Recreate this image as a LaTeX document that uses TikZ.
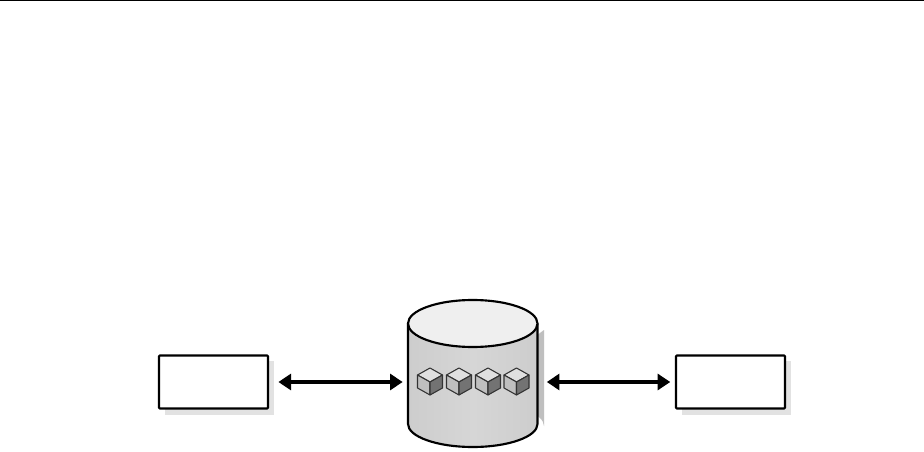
\documentclass[tikz,border=0pt]{standalone}
\usetikzlibrary{arrows.meta}
\definecolor{shadowgray}{HTML}{E2E2E2}
\definecolor{cylside}{HTML}{CDCDCD}
\definecolor{cylmid}{HTML}{D6D6D6}
\definecolor{cyltop}{HTML}{EFEFEF}
\tikzset{
  px/.style={x=0.75pt,y=-0.75pt},
  outline/.style={draw=black,line width=1.6pt,line join=round},
  boxnode/.style={outline,fill=white,minimum width=81.75pt,minimum height=39.75pt,inner sep=0pt,rounded corners=0.6pt},
  boxshadow/.style={fill=shadowgray,draw=none},
  link/.style={line width=2.3pt,{Triangle[length=9.5pt,width=12pt]}-{Triangle[length=9.5pt,width=12pt]}},
  cubeedge/.style={draw=black!80,line width=0.8pt,line join=round},
}
\newcommand{\cubeicon}[1]{%
  \begin{scope}[shift={(#1,381.5)}]
    \fill[cubeedge,fill=black!12] (0,-13.5) -- (12.5,-6.5) -- (0,0.5) -- (-12.5,-6.5) -- cycle;
    \fill[cubeedge,fill=black!25] (-12.5,-6.5) -- (0,0.5) -- (0,13.5) -- (-12.5,6.5) -- cycle;
    \fill[cubeedge,fill=black!55] (12.5,-6.5) -- (0,0.5) -- (0,13.5) -- (12.5,6.5) -- cycle;
  \end{scope}}
\begin{document}
\begin{tikzpicture}[px]
\useasboundingbox (0,0) rectangle (924,452);
\fill[white] (0,0) rectangle (924,452);
% top rule
\coordinate (ruleL) at (0,0.5);
\coordinate (ruleR) at (924,0.5);
\draw[black,line width=0.75pt] (ruleL) -- (ruleR);
% shadows
\fill[boxshadow] (165,361) rectangle (274,414.5);
\fill[boxshadow] (682,361) rectangle (791,414.5);
\fill[black!25] (544,330) -- (544,426) arc[start angle=0,end angle=-180,x radius=64.75,y radius=23] -- cycle;
% cylinder
\path[left color=cylside,right color=cylside,middle color=cylmid]
  (408,323.5) -- (408,424) arc[start angle=180,end angle=0,x radius=64.75,y radius=23] -- (537.5,323.5) -- cycle;
\draw[outline] (408,323.5) -- (408,424) arc[start angle=180,end angle=0,x radius=64.75,y radius=23] -- (537.5,323.5);
\draw[outline,fill=cyltop] (472.75,323.5) ellipse[x radius=64.75,y radius=23.5];
\node[minimum width=97.1pt,minimum height=110pt,inner sep=0pt,outer sep=0pt] (db) at (472.75,382) {};
% cubes
\cubeicon{430}\cubeicon{459}\cubeicon{488}\cubeicon{516.5}
% boxes
\node[boxnode] (lbox) at (213.5,382) {};
\node[boxnode] (rbox) at (730.5,382) {};
% links
\draw[link,shorten <=7pt,shorten >=4pt] (lbox) -- (db);
\draw[link,shorten <=7pt,shorten >=3.5pt] (db) -- (rbox);
\end{tikzpicture}
\end{document}
